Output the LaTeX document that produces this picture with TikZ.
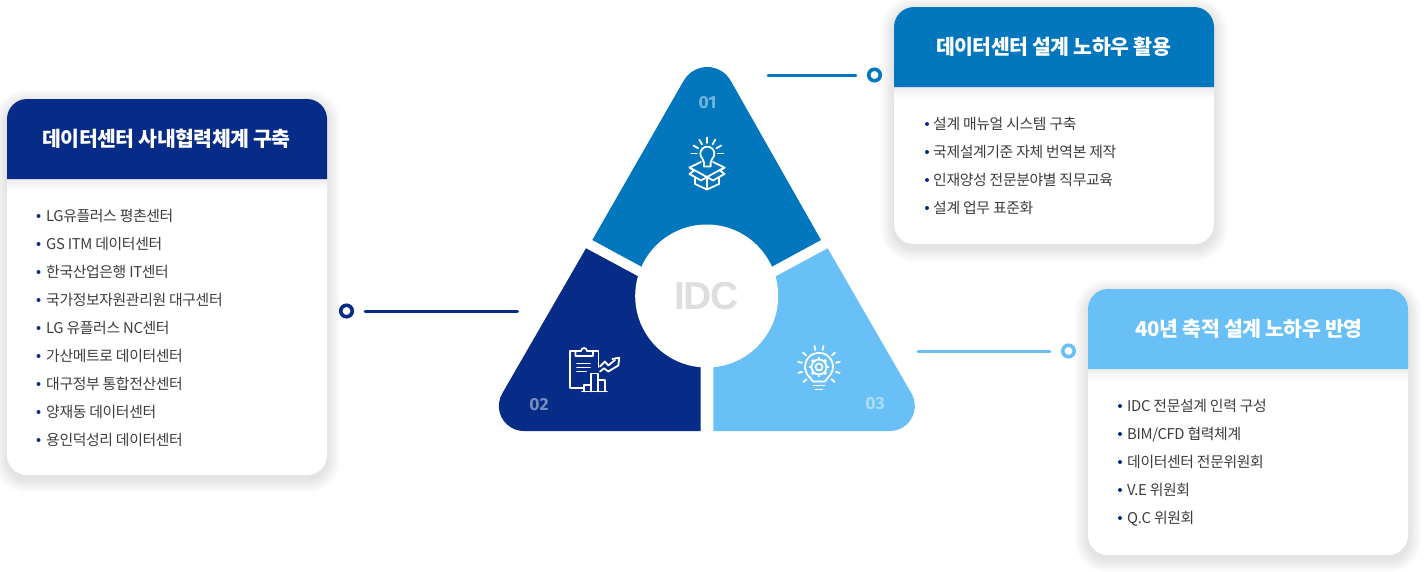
\documentclass[tikz,border=0pt]{standalone}
\usepackage{fontspec}
\usetikzlibrary{calc}
\setmainfont{Noto Sans CJK KR}[LetterSpace=-2.5]
\newfontfamily\numfont{Fira Sans}
\newfontfamily\idcfont{Liberation Sans}[LetterSpace=-4]
\definecolor{navy}{HTML}{062C87}
\definecolor{midblue}{HTML}{0277BD}
\definecolor{skyblue}{HTML}{69C0F6}
\definecolor{bodytext}{HTML}{3D3D3D}
\tikzset{
	cardtitle/.style={text=white,font=\fontsize{20.5}{24}\selectfont\bfseries,inner sep=0pt},
	carditem/.style={anchor=base west,text=bodytext,font=\fontsize{14.85}{18}\selectfont,inner sep=0pt},
	segnum/.style={text=white,text opacity=.45,font=\fontsize{17.5}{18}\selectfont\numfont\bfseries,inner sep=0pt},
	ring/.style={circle,draw=#1,line width=3.6pt,fill=white,minimum size=11.5pt,inner sep=0pt},
	leader/.style={draw=#1,line width=3pt,line cap=round},
	iconline/.style={draw=white,line width=1.8pt,line cap=round,line join=round}
}
\begin{document}
\begin{tikzpicture}[x=1pt,y=-1pt]
	\useasboundingbox (0,0) rectangle (1425,571);
	\def\rad{20} % card corner
	% cards: left, top, height, colour
	\foreach \x/\y/\h/\c in {7/99/376/navy,894/7/237/midblue,1088/289/266/skyblue}{
		\foreach \s in {1,...,14}
		\fill[black,opacity=.006,rounded corners=\rad+\s] (\x-\s,\y+4-\s) rectangle (\x+320+\s,\y+\h+4+\s);
		\fill[white,rounded corners=\rad] (\x,\y) rectangle (\x+320,\y+\h);
		\shade[top color=black!7,bottom color=white] (\x,\y+80) rectangle (\x+320,\y+92);
		\fill[\c] (\x,\y+80) -- (\x,\y+\rad) arc[start angle=180,end angle=90,radius=20pt]
		-- (\x+320-\rad,\y) arc[start angle=90,end angle=0,radius=20pt] -- (\x+320,\y+80) -- cycle;
	}
	\node[cardtitle] (title2) at (166.5,139) {데이터센터 사내협력체계 구축};
	\node[cardtitle] (title1) at (1053.5,47) {데이터센터 설계 노하우 활용};
	\node[cardtitle] (title3) at (1249,329) {40년 축적 설계 노하우 반영};
	% lists
	\foreach \t[count=\i from 0] in {LG유플러스 평촌센터,GS ITM 데이터센터,한국산업은행 IT센터,국가정보자원관리원 대구센터,LG 유플러스 NC센터,가산메트로 데이터센터,대구정부 통합전산센터,양재동 데이터센터,용인덕성리 데이터센터}{
		\fill[navy] (38.5,216+28*\i) circle (2);
		\node[carditem] (itemB\i) at (46,221+28*\i) {\t};
	}
	\foreach \t[count=\i from 0] in {설계 매뉴얼 시스템 구축,국제설계기준 자체 번역본 제작,인재양성 전문분야별 직무교육,설계 업무 표준화}{
		\fill[navy] (927,124+28*\i) circle (2);
		\node[carditem] (itemA\i) at (933,129+28*\i) {\t};
	}
	\foreach \t[count=\i from 0] in {IDC 전문설계 인력 구성,BIM/CFD 협력체계,데이터센터 전문위원회,V.E 위원회,Q.C 위원회}{
		\fill[navy] (1120,406+28*\i) circle (2);
		\node[carditem] (itemC\i) at (1127,411+28*\i) {\t};
	}
	% triangle
	\path
	(592.3,240) coordinate (A1)
	(683.8,80.5) coordinate (A2)
	(821,240) coordinate (A4)
	(586,248.3) coordinate (B1)
	(502.2,393.5) coordinate (B2)
	(700.7,431) coordinate (B4)
	(827.7,248.3) coordinate (C1)
	(911.5,393.5) coordinate (C2)
	(713.3,431) coordinate (C4)
	(706.7,296) coordinate (O);
	\fill[midblue] (A1)--(A2) arc[start angle=150,end angle=30,radius=27pt]--(A4)--(706.7,302)--cycle;
	\fill[navy] (B1)--(B2) arc[start angle=150,end angle=270,radius=25pt]--(B4)--(700.7,310)--cycle;
	\fill[skyblue] (C1)--(C2) arc[start angle=30,end angle=-90,radius=25pt]--(C4)--(713.3,310)--cycle;
	\fill[white] (O) circle (71.5);
	\node[text=black!13,font=\fontsize{39}{41}\selectfont\idcfont\bfseries,inner sep=0pt] (idc) at (706.5,296) {IDC};
	\node[segnum] (num1) at (707.5,103) {01};
	\node[segnum] (num2) at (539,405) {02};
	\node[segnum] (num3) at (875,404) {03};
	% connectors
	\node[ring=midblue] (ring1) at (874.5,75) {};
	\node[ring=navy] (ring2) at (346.5,311) {};
	\node[ring=skyblue] (ring3) at (1068.5,351) {};
	\path (768,75) coordinate (end1) (517.5,311) coordinate (end2) (918,351) coordinate (end3);
	\foreach \i/\c in {1/midblue,2/navy,3/skyblue}
	\draw[leader=\c,shorten <=11pt] (ring\i)--(end\i);
	% icon 01
	\foreach \a in {0,30,60,90,120,150,180}
	\draw[iconline] ($(707.3,153.5)+(-\a:10.5)$)--($(707.3,153.5)+(-\a:16)$);
	\draw[iconline] (704,166.5)--(704,162.5)--(702.4,158.6) arc[start angle=225,end angle=-45,radius=7pt]--(710.6,162.5)--(710.6,166.5)--cycle;
	\draw[iconline] (701,162)--(689.5,167.5)--(707,177)--(724.5,167.5)--(713,162);
	\draw[iconline] (689.5,167.5)--(694,170.5)--(689.5,174)--(701,180.5)--(707,177)--(713,180.5)--(724.5,174)--(720,170.5)--(724.5,167.5);
	\draw[iconline] (695,178)--(695,184)--(707,189.5)--(719,184)--(719,178) (707,177)--(707,189.5);
	% icon 02
	\draw[iconline] (584,388)--(570,388)--(570,351)--(575.5,351);
	\draw[iconline] (593,351)--(598.5,351)--(598.5,367);
	\draw[iconline] (575.5,356)--(575.5,351)--(581,351) arc[start angle=180,end angle=0,radius=3pt]--(593,351)--(593,356)--cycle;
	\draw[iconline] (577,363.5)--(590,363.5) (577,367.5)--(590,367.5) (577,371.5)--(586,371.5);
	\draw[iconline] (582,391.5)--(607,391.5);
	\draw[iconline] (584,391.5)--(584,385)--(591,385)--(591,391.5) (591,385)--(591,373.5)--(598,373.5)--(598,391.5) (598,380)--(605,380)--(605,391.5);
	\draw[iconline] (600,366.5)--(605,361.5)--(608.3,365.5)--(615,360);
	\draw[iconline] (600,371.5)--(604,368.3)--(608.3,371.5)--(618.3,365.5)--(619.3,357.7)--(612.3,359);
	% icon 03
	\foreach \a in {102,138,166,196,224,78,42,14,-16,-44}
	\draw[iconline] ($(819,367)+(-\a:17.5)$)--($(819,367)+(-\a:21.5)$);
	\draw[iconline] (810,377.5) arc[start angle=230,end angle=-50,radius=14pt]--(825,381.5)--(813,381.5)--cycle;
	\draw[iconline] (813.5,385.5)--(824.5,385.5) (815.5,389.5)--(822.5,389.5);
	\draw[iconline] (819,367) circle (3.5) (819,367) circle (7.5);
	\foreach \a in {0,45,...,315}
	\draw[draw=white,line width=2.6pt] ($(819,367)+(\a:7.5)$)--($(819,367)+(\a:10)$);
\end{tikzpicture}
\end{document}
